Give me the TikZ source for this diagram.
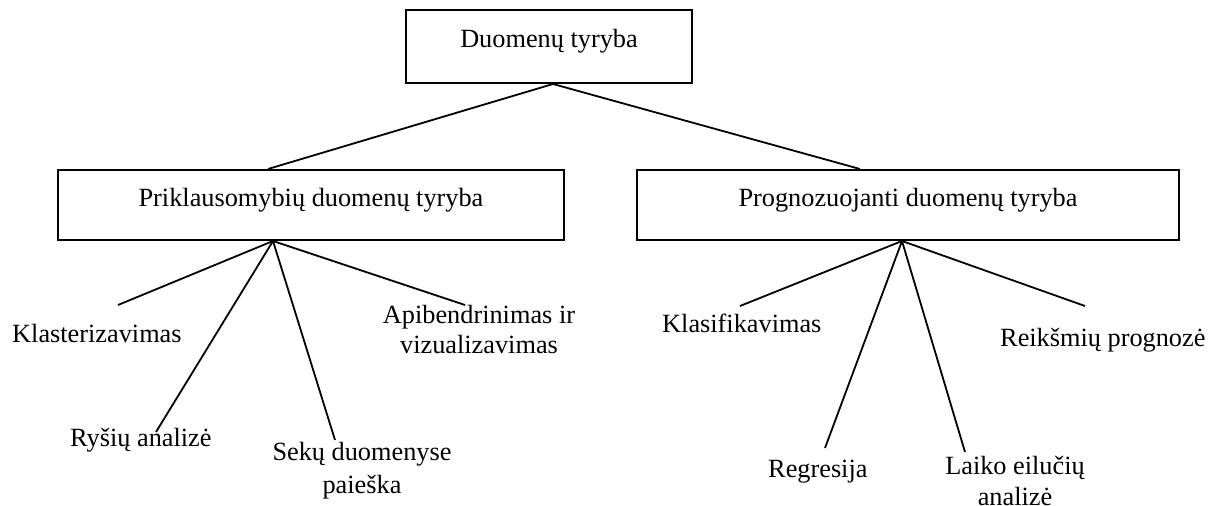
\documentclass[tikz,border=0pt]{standalone}
\usepackage{fontspec}
\setmainfont{Liberation Serif}
\begin{document}
\begin{tikzpicture}[x=1pt,y=-1pt,
  every node/.style={font=\fontsize{26.3}{31}\selectfont, inner sep=0pt},
  box/.style={draw, line width=2pt, text height=16pt, text depth=14pt},
  link/.style={line width=1.8pt},
  leaf/.style={anchor=base west},
  leafc/.style={anchor=base}]
\useasboundingbox (0,0) rectangle (1224,506);

% boxes
\node[box, minimum width=286pt, minimum height=73pt] (root) at (549,46.5) {Duomenų tyryba};
\node[box, minimum width=506pt, minimum height=70pt] (pl) at (311,205) {Priklausomybių duomenų tyryba};
\node[box, minimum width=542pt, minimum height=70pt] (pr) at (908,205) {Prognozuojanti duomenų tyryba};

% leaf labels, left group
\node[leaf] (klast) at (12,342) {Klasterizavimas};
\node[leaf] (rys) at (70,446) {Ryšių analizė};
\node[leafc] (sek1) at (362,460) {Sekų duomenyse};
\node[leafc] (sek2) at (362,493) {paieška};
\node[leafc] (api1) at (479,323) {Apibendrinimas ir};
\node[leafc] (api2) at (479,353) {vizualizavimas};

% leaf labels, right group
\node[leaf] (klas) at (662,332) {Klasifikavimas};
\node[leaf] (reg) at (768,477) {Regresija};
\node[leafc] (lai1) at (1015,474) {Laiko eilučių};
\node[leafc] (lai2) at (1015,505) {analizė};
\node[leaf] (rei) at (1000,346) {Reikšmių prognozė};

% free ends of the branch lines
\coordinate (eklast) at (118,305);
\coordinate (erys) at (156,432);
\coordinate (esek) at (335,440);
\coordinate (eapi) at (465,305);
\coordinate (eklas) at (740,306);
\coordinate (ereg) at (825,448);
\coordinate (elai) at (965,452);
\coordinate (erei) at (1085,306);

% top level links
\draw[link] ([xshift=4pt]root.south) -- ([xshift=-43pt]pl.north);
\draw[link] ([xshift=4pt]root.south) -- ([xshift=-48pt]pr.north);

% left fan
\draw[link] ([xshift=-38pt]pl.south) -- (eklast);
\draw[link] ([xshift=-38pt]pl.south) -- (erys);
\draw[link] ([xshift=-38pt]pl.south) -- (esek);
\draw[link] ([xshift=-38pt]pl.south) -- (eapi);

% right fan
\draw[link] ([xshift=-6pt]pr.south) -- (eklas);
\draw[link] ([xshift=-6pt]pr.south) -- (ereg);
\draw[link] ([xshift=-6pt]pr.south) -- (elai);
\draw[link] ([xshift=-6pt]pr.south) -- (erei);
\end{tikzpicture}
\end{document}
